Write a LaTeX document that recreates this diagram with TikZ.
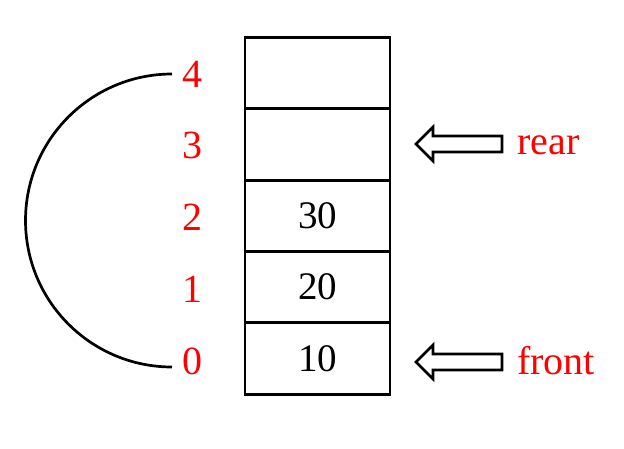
\documentclass[tikz,border=0pt]{standalone}
\usepackage{fontspec}
\setmainfont{Liberation Serif}
\begin{document}
\begin{tikzpicture}[x=1pt,y=-1pt,
  cell/.style={draw,line width=2.9pt,minimum width=145pt,minimum height=71.3pt,inner sep=0pt,font=\fontsize{39}{42}\selectfont},
  idx/.style={text=red,font=\fontsize{40}{42}\selectfont,inner sep=0pt},
  lbl/.style={text=red,font=\fontsize{40}{42}\selectfont,inner sep=0pt,anchor=base west},
  blockarrow/.style={line width=2.7pt,line join=miter,fill=white}]
\useasboundingbox (0,0) rectangle (624,448);
\node[cell] (c4) at (317.5,73.2) {};
\node[cell] (c3) at (317.5,144.5) {};
\node[cell] (c2) at (317.5,215.8) {30};
\node[cell] (c1) at (317.5,287.1) {20};
\node[cell] (c0) at (317.5,358.4) {10};
\node[idx] (i4) at (192,74) {4};
\node[idx] (i3) at (192,145) {3};
\node[idx] (i2) at (192,217) {2};
\node[idx] (i1) at (192,289) {1};
\node[idx] (i0) at (192,361) {0};
\coordinate (a4) at (172,74);
\coordinate (a0) at (172,367);
\draw[line width=2.7pt] (a4) arc[start angle=270,end angle=90,radius=146.5];
\coordinate (rtip) at (416,144);
\coordinate (ftip) at (416,362);
\foreach \t in {rtip,ftip}{
  \draw[blockarrow] (\t) -- ++(17,-17) -- ++(0,9) -- ++(69,0) -- ++(0,16) -- ++(-69,0) -- ++(0,9) -- cycle;
}
\node[lbl] (rear) at (517,154) {rear};
\node[lbl] (front) at (517,374) {front};
\end{tikzpicture}
\end{document}
